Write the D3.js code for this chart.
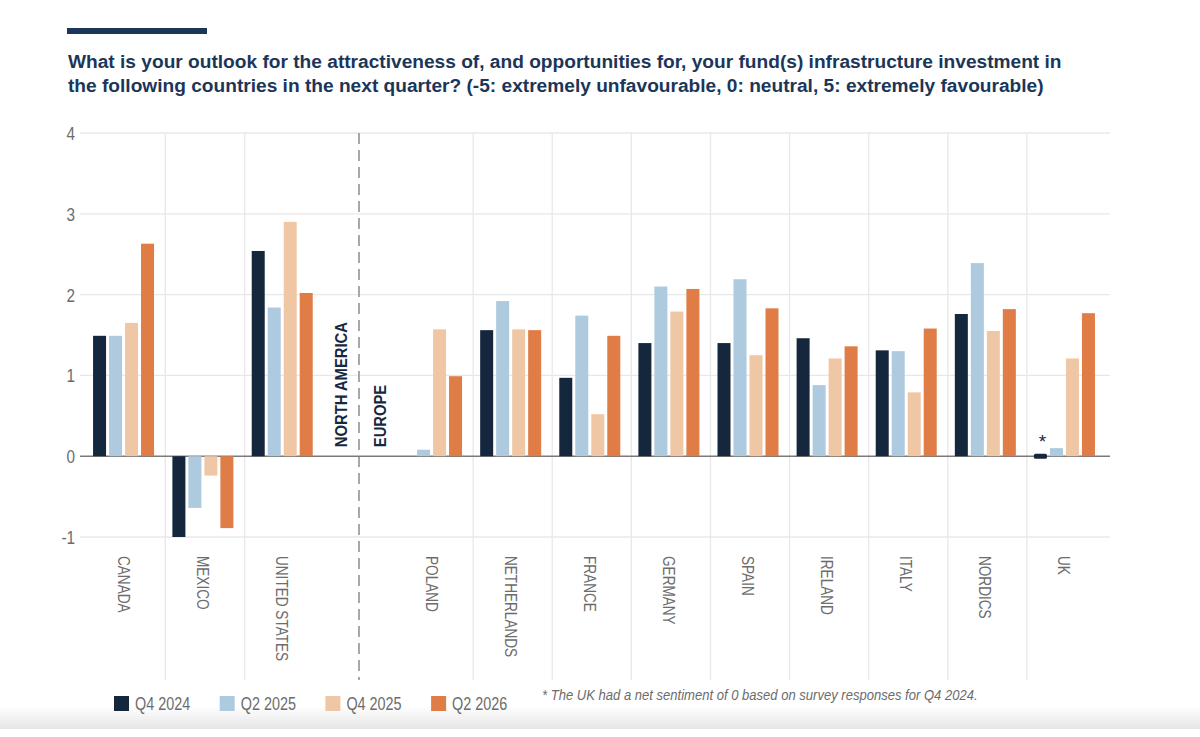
<!DOCTYPE html>
<html>
<head>
<meta charset="utf-8">
<script src="https://cdnjs.cloudflare.com/ajax/libs/d3/7.8.5/d3.min.js"></script>
<style>
  html, body { margin: 0; padding: 0; background: #fff; }
  svg { display: block; font-family: "Liberation Sans", Arial, sans-serif; }
</style>
</head>
<body>
<svg id="chart" width="1200" height="737"></svg>
<script>
// countries, split by region
const naCountries = ["CANADA", "MEXICO", "UNITED STATES"]
const euCountries = ["POLAND", "NETHERLANDS", "FRANCE", "GERMANY", "SPAIN", "IRELAND", "ITALY", "NORDICS", "UK"]
const countries = naCountries.concat(euCountries)
const regionNames = ["NORTH AMERICA", "EUROPE"]

// series, one value per country (null = no response)
const seriesNames = ["Q4 2024", "Q2 2025", "Q4 2025", "Q2 2026"]
const q4_2024 = [1.49, -1.00, 2.54, null, 1.56, 0.97, 1.40, 1.40, 1.46, 1.31, 1.76, 0]
const q2_2025 = [1.49, -0.64, 1.84, 0.08, 1.92, 1.74, 2.10, 2.19, 0.88, 1.30, 2.39, 0.10]
const q4_2025 = [1.65, -0.24, 2.90, 1.57, 1.57, 0.52, 1.79, 1.25, 1.21, 0.79, 1.55, 1.21]
const q2_2026 = [2.63, -0.89, 2.02, 0.99, 1.56, 1.49, 2.07, 1.83, 1.36, 1.58, 1.82, 1.77]
const series = [q4_2024, q2_2025, q4_2025, q2_2026]
const seriesColors = ["#15273d", "#aecadf", "#efc7a5", "#e07c45"]

const yTicks = [-1, 0, 1, 2, 3, 4]

const titleLines = [
  "What is your outlook for the attractiveness of, and opportunities for, your fund(s) infrastructure investment in",
  "the following countries in the next quarter? (-5: extremely unfavourable, 0: neutral, 5: extremely favourable)"
]
const footnote = "* The UK had a net sentiment of 0 based on survey responses for Q4 2024."

const svg = d3.select("#chart")
const gray = "#6c6c6c"
const navy = "#1b3659"

// bottom page shadow
const defs = svg.append("defs")
const grad = defs.append("linearGradient").attr("id", "shade").attr("x1", 0).attr("x2", 0).attr("y1", 0).attr("y2", 1)
grad.append("stop").attr("offset", "0%").attr("stop-color", "#ffffff")
grad.append("stop").attr("offset", "100%").attr("stop-color", "#e6e6e6")
svg.append("rect").attr("x", 0).attr("y", 706).attr("width", 1200).attr("height", 23).attr("fill", "url(#shade)")

// header rule + title
svg.append("rect").attr("x", 67).attr("y", 28).attr("width", 140).attr("height", 6).attr("fill", navy)

const title = svg.append("g").attr("fill", navy).style("font-weight", "bold")
const t1 = title.append("text").attr("x", 68).attr("y", 68).style("font-size", "18px").text(titleLines[0])
// fit the first line to the width seen in the reference, reuse size for line 2
const titleSize = 18 * 994 / t1.node().getComputedTextLength()
t1.style("font-size", titleSize + "px")
title.append("text").attr("x", 68).attr("y", 91.5).style("font-size", titleSize + "px").text(titleLines[1])

// scales
const y = d3.scaleLinear().domain([-1, 4]).range([537, 133])
const xNA = d3.scaleBand().domain(naCountries).range([86, 324])
const xEU = d3.scaleBand().domain(euCountries).range([394, 1106])
const xOf = c => naCountries.includes(c) ? xNA : xEU
const xInner = d3.scaleBand().domain(seriesNames).range([0, 61]).paddingInner(0.1875)
const groupOffset = (xEU.bandwidth() - 61) / 2 - 2

const left = 80, right = 1110, lineBottom = 680
const divider = (xNA.range()[1] + xEU.range()[0]) / 2

// horizontal grid
svg.append("g").selectAll("line").data(yTicks.filter(d => d !== 0)).join("line")
  .attr("x1", left).attr("x2", right)
  .attr("y1", d => y(d)).attr("y2", d => y(d))
  .attr("stroke", "#e8e8e8").attr("stroke-width", 1.3)

// vertical separators between countries
const seps = naCountries.slice(1).map(c => xNA(c)).concat(euCountries.slice(1).map(c => xEU(c)))
svg.append("g").selectAll("line").data(seps).join("line")
  .attr("x1", d => d).attr("x2", d => d)
  .attr("y1", y(4)).attr("y2", lineBottom)
  .attr("stroke", "#e8e8e8").attr("stroke-width", 1.3)

// dashed region divider
svg.append("line")
  .attr("x1", divider).attr("x2", divider).attr("y1", y(4)).attr("y2", lineBottom)
  .attr("stroke", "#a8a8a8").attr("stroke-width", 2).attr("stroke-dasharray", "11,6")

// zero line
svg.append("line")
  .attr("x1", left).attr("x2", right).attr("y1", y(0)).attr("y2", y(0))
  .attr("stroke", "#7a7a7a").attr("stroke-width", 1.5)

// y axis labels
svg.append("g").attr("transform", "translate(75,0)")
  .call(d3.axisLeft(y).tickValues(yTicks).tickSize(0).tickPadding(0).tickFormat(d => String(d)))
  .call(g => g.select(".domain").remove())
  .selectAll("text")
  .attr("transform", "scale(0.85,1)")
  .attr("dy", "0.36em")
  .attr("fill", gray)
  .style("font-size", "18px")
  .style("font-family", "'Liberation Sans', Arial, sans-serif")

// bars
const bars = countries.flatMap((c, i) => series.map((s, k) => ({
  country: c, key: seriesNames[k], value: s[i], color: seriesColors[k]
}))).filter(d => d.value !== null)

const barX = d => xOf(d.country)(d.country) + groupOffset + xInner(d.key)

svg.append("g").selectAll("rect").data(bars).join("rect")
  .attr("x", barX)
  .attr("width", xInner.bandwidth())
  .attr("y", d => d.value === 0 ? y(0) - 2.5 : y(Math.max(d.value, 0)))
  .attr("height", d => d.value === 0 ? 5 : Math.abs(y(d.value) - y(0)))
  .attr("rx", d => d.value === 0 ? 1.5 : 0)
  .attr("fill", d => d.color)

// asterisk over the zero value
svg.append("g").selectAll("text").data(bars.filter(d => d.value === 0)).join("text")
  .attr("x", d => barX(d) + xInner.bandwidth() / 2 + 2)
  .attr("y", y(0) - 8)
  .attr("text-anchor", "middle")
  .attr("fill", "#15273d")
  .style("font-size", "19px")
  .text("*")

// country labels (rotated, reading downwards)
svg.append("g").selectAll("text").data(countries).join("text")
  .attr("transform", c => `translate(${xOf(c)(c) + xOf(c).bandwidth() / 2 - 2},556) rotate(90) scale(0.8,1)`)
  .attr("dy", "0.35em")
  .attr("fill", gray)
  .style("font-size", "17px")
  .text(c => c)

// region labels (rotated, reading upwards)
svg.append("g").selectAll("text").data(regionNames).join("text")
  .attr("transform", (r, i) => `translate(${divider + (i === 0 ? -18 : 20.5)},${y(0) - 9}) rotate(-90) scale(0.87,1)`)
  .attr("dy", "0.36em")
  .attr("fill", "#16283f")
  .style("font-size", "17px")
  .style("font-weight", "bold")
  .text(r => r)

// legend
const legend = svg.append("g").selectAll("g").data(seriesNames).join("g")
  .attr("transform", (d, i) => `translate(${114 + i * 105.7},696)`)
legend.append("rect").attr("width", 15).attr("height", 15).attr("fill", (d, i) => seriesColors[i])
legend.append("text")
  .attr("transform", "translate(21,14) scale(0.8,1)")
  .attr("fill", gray)
  .style("font-size", "18px")
  .text(d => d)

// footnote, squeezed to the narrow width of the original
const fn = svg.append("text")
  .attr("fill", gray)
  .style("font-size", "15.5px")
  .style("font-style", "italic")
  .text(footnote)
const fnScale = 436 / fn.node().getComputedTextLength()
fn.attr("transform", `translate(542,700) scale(${fnScale},1)`)
</script>
</body>
</html>
